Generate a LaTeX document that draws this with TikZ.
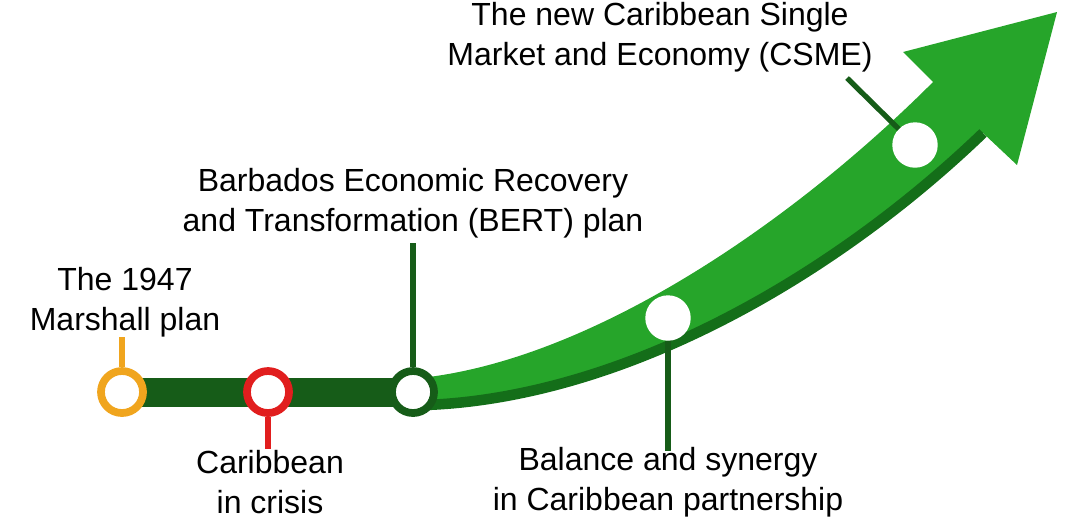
\documentclass[tikz,border=0pt]{standalone}
\usepackage{fontspec}
\setmainfont{Liberation Sans}
\usetikzlibrary{calc}
\definecolor{bargreen}{RGB}{22,92,24}
\definecolor{arrowgreen}{RGB}{38,165,42}
\definecolor{darkedge}{RGB}{20,110,25}
\definecolor{mileorange}{RGB}{240,165,30}
\definecolor{milered}{RGB}{225,30,30}
\begin{document}
\begin{tikzpicture}[x=0.01cm, y=-0.01cm,
        mile/.style={circle, draw, line width=2.2pt, fill=white, minimum size=0.42cm, inner sep=0pt},
        plain/.style={circle, fill=white, draw=white, minimum size=0.44cm, inner sep=0pt},
        lbl/.style={align=center, font=\fontsize{9.1}{11.4}\selectfont, inner sep=0pt},
        lead/.style={line width=1.5pt}
    ]
    \useasboundingbox (0,0) rectangle (1080,517);
    % straight dark bar
    \fill[bargreen] (122,378) rectangle (428,407);
    % curved arrow
    \fill[arrowgreen] (420,378) .. controls (590,360) and (790,225) .. (933,82)
        -- (903,52) -- (1057,12) -- (1017,165) -- (983,133)
        .. controls (830,280) and (620,400) .. (420,407) -- cycle;
    \draw[darkedge, line width=3pt] (983,133) .. controls (830,280) and (620,398) .. (425,405);
    % milestones
    \node[mile, draw=mileorange] (m1947) at (122,392) {};
    \node[mile, draw=milered] (crisis) at (268,392) {};
    \node[mile, draw=bargreen] (bert) at (413,392) {};
    \node[plain] (balance) at (668,318) {};
    \node[plain] (csme) at (915,145) {};
    % labels
    \node[lbl] (t1947) at (125,302) {The 1947\\Marshall plan};
    \node[lbl] (tcrisis) at (270,482) {Caribbean\\in crisis};
    \node[lbl] (tbert) at (413,203) {Barbados Economic Recovery\\and Transformation (BERT) plan};
    \node[lbl] (tbalance) at (668,482) {Balance and synergy\\in Caribbean partnership};
    \node[lbl] (tcsme) at (660,37) {The new Caribbean Single\\Market and Economy (CSME)};
    % leaders
    \draw[lead, mileorange] (m1947) -- (122,337);
    \draw[lead, milered] (crisis) -- (268,449);
    \draw[lead, bargreen] (bert) -- (413,243);
    \draw[lead, bargreen] (balance) -- (668,451);
    \draw[lead, bargreen] (csme) -- (847,78);
\end{tikzpicture}
\end{document}
